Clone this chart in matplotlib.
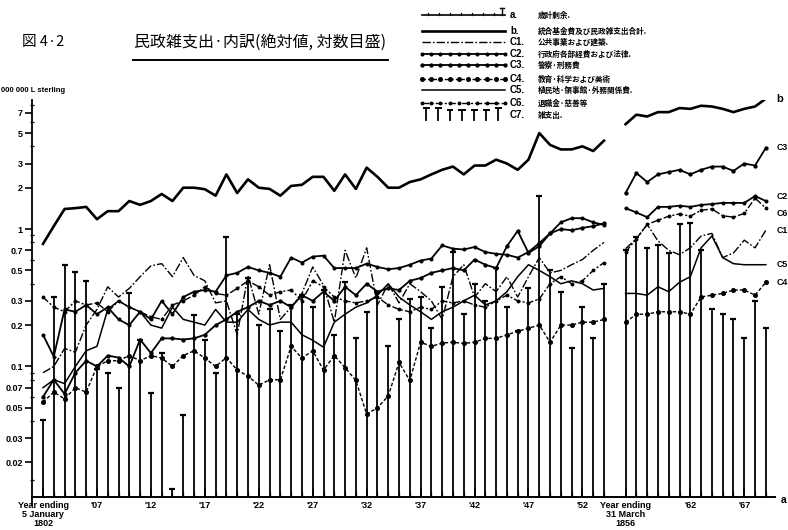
import matplotlib
matplotlib.use("Agg")
import matplotlib.pyplot as plt
from matplotlib.lines import Line2D
from matplotlib.ticker import FixedLocator, FixedFormatter, NullFormatter

# ---------------------------------------------------------------------------
# Data (million pounds sterling, log scale)
# Years ending 5 January 1802-1854, then years ending 31 March 1856-1869
# ---------------------------------------------------------------------------
years1 = list(range(1802, 1855))
years2 = list(range(1856, 1870))

# b: total
b1 = [0.78, 1.05, 1.40, 1.42, 1.45, 1.18, 1.35, 1.35, 1.60, 1.50,
      1.60, 1.80, 1.60, 2.00, 2.00, 1.95, 1.75, 2.50, 1.83, 2.30,
      2.00, 1.96, 1.75, 2.06, 2.10, 2.40, 2.40, 1.90, 2.50, 1.96,
      2.80, 2.40, 2.00, 2.00, 2.20, 2.30, 2.50, 2.70, 2.85, 2.50,
      2.90, 2.90, 3.20, 3.00, 2.70, 3.20, 5.00, 4.10, 3.80, 3.80,
      4.00, 3.70, 4.40]
b2 = [5.8, 6.8, 6.6, 7.1, 7.1, 7.6, 7.5, 7.9, 7.8, 7.5, 7.1, 7.5, 7.8, 8.9]

# C1: public works and buildings
c1_1 = [0.090, 0.100, 0.135, 0.127, 0.200, 0.260, 0.380, 0.320, 0.370, 0.450,
        0.540, 0.560, 0.450, 0.620, 0.460, 0.420, 0.290, 0.300, 0.170, 0.460,
        0.240, 0.550, 0.220, 0.270, 0.340, 0.530, 0.390, 0.210, 0.700, 0.440,
        0.730, 0.280, 0.400, 0.290, 0.400, 0.350, 0.300, 0.220, 0.450, 0.550,
        0.320, 0.400, 0.350, 0.450, 0.320, 0.450, 0.620, 0.480, 0.500, 0.550,
        0.600, 0.700, 0.800]
c1_2 = [0.72, 0.85, 1.08, 0.82, 0.70, 0.65, 0.73, 0.89, 0.93, 0.62, 0.67, 0.83, 0.73, 0.98]

# C2: departments and law
c2_1 = [0.170, 0.118, 0.260, 0.250, 0.280, 0.240, 0.270, 0.220, 0.200, 0.250,
        0.220, 0.300, 0.240, 0.320, 0.350, 0.360, 0.350, 0.460, 0.480, 0.530,
        0.500, 0.480, 0.450, 0.620, 0.570, 0.630, 0.640, 0.520, 0.520, 0.520,
        0.560, 0.530, 0.510, 0.520, 0.550, 0.590, 0.610, 0.760, 0.720, 0.710,
        0.740, 0.680, 0.660, 0.650, 0.620, 0.680, 0.790, 0.930, 1.120, 1.200,
        1.200, 1.120, 1.070]
c2_2 = [1.42, 1.32, 1.22, 1.45, 1.45, 1.48, 1.45, 1.50, 1.52, 1.55, 1.55, 1.55, 1.74, 1.60]

# C3: police and prisons
c3_1 = [0.060, 0.080, 0.063, 0.090, 0.110, 0.100, 0.120, 0.116, 0.100, 0.157,
        0.125, 0.160, 0.160, 0.157, 0.160, 0.170, 0.200, 0.220, 0.250, 0.270,
        0.300, 0.280, 0.300, 0.270, 0.330, 0.300, 0.350, 0.300, 0.380, 0.330,
        0.400, 0.350, 0.370, 0.360, 0.420, 0.440, 0.480, 0.500, 0.520, 0.500,
        0.600, 0.550, 0.520, 0.750, 0.970, 0.670, 0.750, 0.930, 1.000, 0.980,
        1.020, 1.050, 1.100]
c3_2 = [1.83, 2.56, 2.20, 2.50, 2.60, 2.70, 2.50, 2.70, 2.85, 2.85, 2.65, 3.00, 2.90, 3.90]

# C4: education, science and art
c4_1 = [0.055, 0.065, 0.058, 0.070, 0.065, 0.100, 0.110, 0.110, 0.120, 0.110,
        0.120, 0.115, 0.100, 0.120, 0.130, 0.115, 0.100, 0.116, 0.094, 0.085,
        0.073, 0.080, 0.080, 0.140, 0.115, 0.130, 0.094, 0.120, 0.098, 0.079,
        0.045, 0.050, 0.061, 0.107, 0.079, 0.150, 0.140, 0.148, 0.150, 0.147,
        0.150, 0.160, 0.160, 0.170, 0.180, 0.190, 0.200, 0.150, 0.200, 0.200,
        0.210, 0.210, 0.220]
c4_2 = [0.21, 0.24, 0.24, 0.25, 0.25, 0.25, 0.24, 0.32, 0.33, 0.34, 0.36, 0.36, 0.33, 0.41]

# C5: colonial, consular and foreign
c5_1 = [0.070, 0.080, 0.075, 0.100, 0.130, 0.140, 0.260, 0.300, 0.270, 0.250,
        0.200, 0.190, 0.270, 0.220, 0.210, 0.200, 0.260, 0.210, 0.210, 0.260,
        0.220, 0.200, 0.210, 0.210, 0.170, 0.155, 0.138, 0.210, 0.240, 0.270,
        0.290, 0.330, 0.400, 0.320, 0.280, 0.250, 0.220, 0.250, 0.270, 0.300,
        0.330, 0.280, 0.300, 0.350, 0.450, 0.550, 0.500, 0.450, 0.400, 0.420,
        0.400, 0.360, 0.370]
c5_2 = [0.34, 0.34, 0.33, 0.38, 0.35, 0.41, 0.45, 0.73, 0.89, 0.62, 0.56, 0.55, 0.55, 0.55]

# C6: superannuation and charities
c6_1 = [0.320, 0.270, 0.250, 0.300, 0.280, 0.290, 0.250, 0.300, 0.270, 0.250,
        0.230, 0.220, 0.280, 0.300, 0.330, 0.380, 0.340, 0.330, 0.370, 0.420,
        0.380, 0.330, 0.350, 0.360, 0.300, 0.420, 0.380, 0.320, 0.300, 0.290,
        0.300, 0.320, 0.280, 0.260, 0.250, 0.270, 0.260, 0.300, 0.290, 0.300,
        0.280, 0.270, 0.300, 0.330, 0.300, 0.290, 0.310, 0.400, 0.450, 0.400,
        0.420, 0.500, 0.570]
c6_2 = [0.68, 0.85, 1.08, 1.16, 1.24, 1.29, 1.24, 1.37, 1.40, 1.25, 1.22, 1.30, 1.68, 1.42]

# C7: miscellaneous (bars)
c7_1 = [0.041, 0.32, 0.55, 0.49, 0.42, 0.095, 0.089, 0.070, 0.34, 0.155,
        0.064, 0.125, 0.0128, 0.044, 0.236, 0.155, 0.090, 0.87, 0.24, 0.44,
        0.20, 0.26, 0.18, 0.28, 0.33, 0.27, 0.36, 0.17, 0.41, 0.16,
        0.25, 0.35, 0.14, 0.22, 0.31, 0.32, 0.19, 0.38, 0.68, 0.24,
        0.40, 0.30, 0.52, 0.27, 0.18, 0.37, 1.74, 0.50, 0.35, 0.137,
        0.27, 0.16, 0.40]
c7_2 = [0.70, 0.87, 0.73, 0.76, 0.67, 1.09, 1.10, 0.70, 0.26, 0.24, 0.22, 0.16, 0.30, 0.19]

ytick_vals = [7, 5, 3, 2, 1, 0.7, 0.5, 0.3, 0.2, 0.1, 0.07, 0.05, 0.03, 0.02]
ytick_labels = ["7", "5", "3", "2", "1", "0.7", "0.5", "0.3", "0.2", "0.1",
                "0.07", "0.05", "0.03", "0.02"]
yminor_vals = [9, 8, 6, 4, 0.9, 0.8, 0.6, 0.4, 0.09, 0.08, 0.06, 0.04, 0.015]
xtick_years = [1802, 1807, 1812, 1817, 1822, 1827, 1832, 1837, 1842, 1847,
               1852, 1856, 1862, 1867]
xtick_labels = ["Year ending\n5 January\n1802", "'07", "'12", "'17", "'22", "'27",
                "'32", "'37", "'42", "'47", "'52",
                "Year ending\n31 March\n1856", "'62", "'67"]

title_num = "図 4·2"
title_txt = "民政雑支出·内訳(絶対値, 対数目盛)"
unit_txt = "000 000 L sterling"
legend_keys = ["a.", "b.", "C1.", "C2.", "C3.", "C4.", "C5.", "C6.", "C7."]
legend_txt = ["歳計剰余.", "統合基金費及び民政雑支出合計.", "公共事業および建築.",
              "行政府各部経費および法律.", "警察·刑務費", "教育·科学および美術",
              "植民地·領事館·外務関係費.", "退職金·慈善等", "雑支出."]

BASE = 0.0112  # value of the baseline the bars rise from

# ---------------------------------------------------------------------------
W, H = 788, 530
fig = plt.figure(figsize=(W / 100, H / 100), dpi=100)
fig.patch.set_facecolor("white")

LATIN = ["Liberation Sans", "DejaVu Sans"]
CJK = ["Noto Sans CJK JP", "DejaVu Sans"]


def fx(px):
    return px / W


def fy(py):
    return 1 - py / H


ax = fig.add_axes([fx(32), fy(505), fx(775) - fx(32), fy(100) - fy(505)])
ax.set_yscale("log")
ax.set_ylim(0.0098, 8.7)
ax.set_xlim(1800.98, 1869.85)
ax.patch.set_alpha(0)

for s in ["top", "right"]:
    ax.spines[s].set_visible(False)
ax.spines["left"].set_linewidth(1.3)
ax.spines["bottom"].set_position(("data", BASE))
ax.spines["bottom"].set_linewidth(1.4)

# y axis ticks
ax.yaxis.set_major_locator(FixedLocator(ytick_vals))
ax.yaxis.set_major_formatter(FixedFormatter(ytick_labels))
ax.yaxis.set_minor_locator(FixedLocator(yminor_vals))
ax.yaxis.set_minor_formatter(NullFormatter())
ax.tick_params(axis="y", which="major", direction="out", length=5, width=1.2,
               pad=1.5, labelsize=6.5)
ax.tick_params(axis="y", which="minor", direction="inout", length=3, width=0.9)
for lab in ax.get_yticklabels():
    lab.set_fontfamily(LATIN)
    lab.set_fontweight("bold")

# x axis ticks (every year, pointing up)
ax.xaxis.set_major_locator(FixedLocator(xtick_years))
ax.xaxis.set_major_formatter(FixedFormatter(xtick_labels))
ax.xaxis.set_minor_locator(FixedLocator(years1 + years2))
ax.tick_params(axis="x", which="major", direction="in", length=6, width=1.1,
               pad=3, labelsize=6.5)
ax.tick_params(axis="x", which="minor", direction="in", length=3.5, width=0.9)
for lab in ax.get_xticklabels():
    lab.set_fontfamily(LATIN)
    lab.set_fontweight("bold")
    lab.set_linespacing(0.95)
    lab.set_verticalalignment("top")

K = "black"

# C7 bars with T caps
for yrs, vals in ((years1, c7_1), (years2, c7_2)):
    ax.vlines(yrs, BASE, vals, colors=K, lw=1.3)
    ax.plot(yrs, vals, ls="none", marker="_", ms=5, mew=1.6, color=K)

styles = {
    "b": dict(color=K, lw=1.9, ls="-"),
    "C1": dict(color=K, lw=1.0, ls=(0, (6, 1.5, 1.2, 1.5))),
    "C2": dict(color=K, lw=1.3, ls="-", marker="o", ms=1.9),
    "C3": dict(color=K, lw=1.3, ls="-", marker="o", ms=2.1),
    "C4": dict(color=K, lw=1.0, ls=(0, (2.5, 1.5)), marker="o", ms=2.6),
    "C5": dict(color=K, lw=1.1, ls="-"),
    "C6": dict(color=K, lw=1.0, ls=(0, (5, 1.5, 1.5, 1.5)), marker="o", ms=1.8),
}
series = {
    "b": (b1, b2),
    "C1": (c1_1, c1_2),
    "C2": (c2_1, c2_2),
    "C3": (c3_1, c3_2),
    "C4": (c4_1, c4_2),
    "C5": (c5_1, c5_2),
    "C6": (c6_1, c6_2),
}
for key, (v1, v2) in series.items():
    ax.plot(years1, v1, **styles[key])
    ax.plot(years2, v2, **styles[key])

# labels at the right-hand end of each line (small vertical nudges keep
# the close-lying C2 / C6 labels apart)
end_labels = [("b", b2[-1], 0), ("C3", c3_2[-1], 0), ("C2", c2_2[-1], 3),
              ("C6", c6_2[-1], -3.5), ("C1", c1_2[-1], 0), ("C5", c5_2[-1], 0),
              ("C4", c4_2[-1], 0)]
for key, val, dy in end_labels:
    ax.annotate(key, xy=(years2[-1], val), xytext=(7.5, dy),
                textcoords="offset points",
                fontsize=8 if key == "b" else 6.3, fontweight="bold",
                family=LATIN, va="center", ha="left", annotation_clip=False)
ax.annotate("a", xy=(ax.get_xlim()[1], BASE), xytext=(4, -2),
            textcoords="offset points", fontsize=7.5, fontweight="bold",
            family=LATIN, va="center", ha="left", annotation_clip=False)

# unit label
fig.text(fx(1), fy(90), unit_txt, fontsize=5.5, fontweight="bold",
         family=LATIN, ha="left", va="center")

# title
fig.text(fx(22), fy(42), title_num, fontsize=10.5, family=CJK,
         ha="left", va="center")
fig.text(fx(134), fy(42), title_txt, fontsize=11.5, family=CJK,
         ha="left", va="center")
fig.add_artist(Line2D([fx(133), fx(388)], [fy(60), fy(60)], color=K, lw=1.4))

# legend
rows = [15, 31, 42, 54, 65, 79, 90, 103, 115]
keys = ["a", "b", "C1", "C2", "C3", "C4", "C5", "C6", "C7"]
x0, x1 = 422, 505
for key, ry, lk, lt in zip(keys, rows, legend_keys, legend_txt):
    if key == "a":
        fig.add_artist(Line2D([fx(x0), fx(x1)], [fy(ry), fy(ry)], color=K, lw=1.2))
        for tx in range(x0 + 6, x1 - 4, 11):
            fig.add_artist(Line2D([fx(tx), fx(tx)], [fy(ry), fy(ry - 2.5)],
                                  color=K, lw=0.9))
        fig.add_artist(Line2D([fx(x1 - 3)] * 2, [fy(ry), fy(ry - 7)], color=K, lw=1.0))
        fig.add_artist(Line2D([fx(x1 - 5), fx(x1 - 1)], [fy(ry - 7)] * 2, color=K, lw=1.0))
    elif key == "C7":
        for i, tx in enumerate(range(x0 + 4, x1 + 2, 12)):
            top = ry - 7 if i in (0, 1, 6) else ry - 5
            fig.add_artist(Line2D([fx(tx)] * 2, [fy(ry + 5), fy(top)], color=K, lw=1.3))
            fig.add_artist(Line2D([fx(tx - 2.5), fx(tx + 2.5)], [fy(top)] * 2,
                                  color=K, lw=1.4))
    else:
        st = dict(styles[key])
        if "marker" in st:
            xs = [fx(x0 + i * (x1 - x0) / 9) for i in range(10)]
        else:
            xs = [fx(x0), fx(x1)]
        fig.add_artist(Line2D(xs, [fy(ry)] * len(xs), **st))
    fig.text(fx(510), fy(ry), lk, fontsize=7, fontweight="bold", family=LATIN,
             ha="left", va="center")
    fig.text(fx(538), fy(ry), lt, fontsize=5.5, fontweight="bold", family=CJK,
             ha="left", va="center")

fig.savefig("out.png", dpi=100, facecolor="white")
